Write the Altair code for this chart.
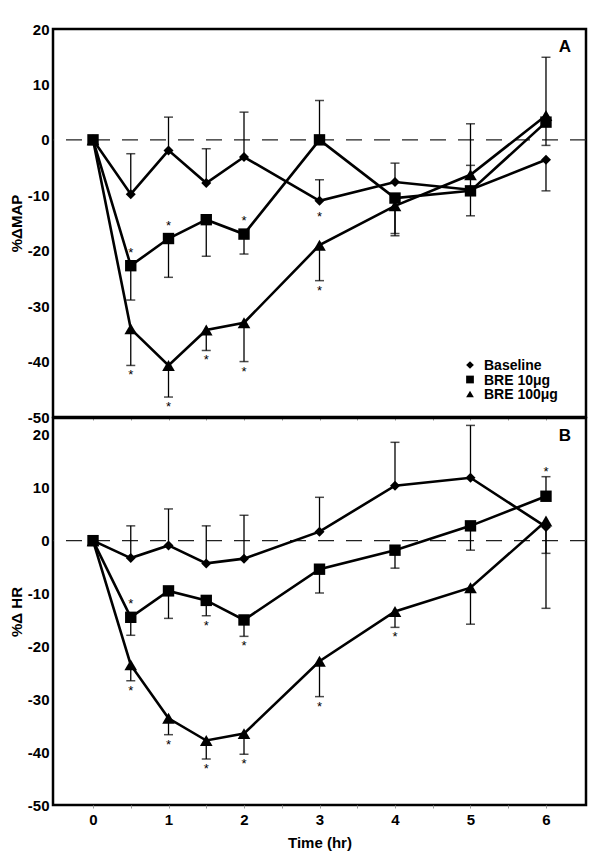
import altair as alt
import pandas as pd

FONT = "Liberation Sans"

times = [0, 0.5, 1, 1.5, 2, 3, 4, 5, 6]
series_names = ["Baseline", "BRE 10μg", "BRE 100μg"]
marker_shapes = ["diamond", "square", "triangle-up"]

# Panel A: %ΔMAP  (means and error-bar end values)
map_base = [0, -9.8, -1.9, -7.8, -3.1, -11.0, -7.6, -9.0, -3.6]
map_base_err = [0, -2.5, 4.1, -1.6, 5.0, -7.2, -4.2, -4.6, -9.2]
map_b10 = [0, -22.7, -17.8, -14.4, -17.0, 0.0, -10.5, -9.2, 3.2]
map_b10_err = [0, -28.9, -24.8, -21.0, -20.6, 7.1, -16.9, -13.7, -1.0]
map_b100 = [0, -34.1, -40.7, -34.3, -33.0, -19.0, -11.9, -6.3, 4.4]
map_b100_err = [0, -40.7, -46.4, -38.0, -40.0, -25.4, -17.3, 2.9, 14.9]

# Panel B: %ΔHR
hr_base = [0, -3.3, -0.9, -4.3, -3.4, 1.7, 10.4, 11.9, 2.6]
hr_base_err = [0, 2.8, 6.0, 2.8, 4.8, 8.2, 18.6, 21.8, -12.8]
hr_b10 = [0, -14.5, -9.5, -11.3, -15.0, -5.4, -1.8, 2.8, 8.4]
hr_b10_err = [0, -17.9, -14.7, -14.2, -18.1, -9.9, -5.2, -1.8, 12.1]
hr_b100 = [0, -23.5, -33.6, -37.8, -36.5, -22.8, -13.4, -8.9, 3.7]
hr_b100_err = [0, -26.5, -36.7, -41.3, -40.4, -29.5, -16.4, -15.8, -2.4]

# significance asterisks: (series, time)
map_stars_above = [("BRE 10μg", 0.5), ("BRE 10μg", 1), ("BRE 10μg", 2)]
map_stars_below = [("Baseline", 3), ("BRE 100μg", 0.5), ("BRE 100μg", 1),
                   ("BRE 100μg", 1.5), ("BRE 100μg", 2), ("BRE 100μg", 3)]
hr_stars_above = [("BRE 10μg", 0.5), ("BRE 10μg", 6)]
hr_stars_below = [("BRE 10μg", 1.5), ("BRE 10μg", 2), ("BRE 100μg", 0.5),
                  ("BRE 100μg", 1), ("BRE 100μg", 1.5), ("BRE 100μg", 2),
                  ("BRE 100μg", 3), ("BRE 100μg", 4)]

y_ticks = [-50, -40, -30, -20, -10, 0, 10, 20]
x_ticks = [0, 0.5, 1, 1.5, 2, 2.5, 3, 3.5, 4, 4.5, 5, 5.5, 6]


def build_df(means, errs):
    rows = []
    for name, m, e in zip(series_names, means, errs):
        for t, v, ev in zip(times, m, e):
            rows.append({"t": t, "v": v, "err": ev, "series": name})
    return pd.DataFrame(rows)


def star_df(df, stars, above):
    rows = []
    for name, t in stars:
        r = df[(df.series == name) & (df.t == t)].iloc[0]
        if above:
            y = max(r.v, r.err)
            at_mean = r.v >= r.err
        else:
            y = min(r.v, r.err)
            at_mean = r.v <= r.err
        rows.append({"t": t, "y": y, "at_mean": bool(at_mean)})
    return pd.DataFrame(rows)


W = 533
AX = dict(labelFont=FONT, labelFontSize=15, labelFontWeight="bold", labelColor="black",
          titleFont=FONT, titleFontSize=15, titleFontWeight="bold", titleColor="black")
shape_scale = alt.Scale(domain=series_names, range=marker_shapes)


def legend_layers():
    ldf = pd.DataFrame({"series": series_names, "row": list(range(len(series_names)))})
    ly = alt.Y("row:Q", scale=alt.Scale(domain=[0, 2], range=[336, 365]), axis=None)
    sym = alt.Chart(ldf).mark_point(filled=True, opacity=1, color="black", size=60).encode(
        x=alt.value(417), y=ly,
        shape=alt.Shape("series:N", scale=shape_scale, legend=None))
    txt = alt.Chart(ldf).mark_text(
        font=FONT, fontSize=14, fontWeight="bold", color="black", align="left",
        baseline="middle", dy=1).encode(x=alt.value(431), y=ly, text="series:N")
    return alt.layer(sym, txt)


def panel(means, errs, sa, sb, ydom, ytitle, letter, bottom, H):
    df = build_df(means, errs)
    xscale = alt.Scale(domain=[-0.53, 6.53], nice=False, zero=False)
    yscale = alt.Scale(domain=ydom, nice=False, zero=False)
    if bottom:
        xaxis = alt.Axis(values=x_ticks, title="Time (hr)",
                         labelExpr="datum.value % 1 == 0 ? toString(datum.value) : ''",
                         tickSize=3, tickColor="#999", labelPadding=4,
                         titlePadding=8, grid=False, domain=False, **AX)
    else:
        xaxis = alt.Axis(values=x_ticks, title=None, labels=False, tickSize=3,
                         tickColor="#999", grid=False, domain=False)
    yaxis = alt.Axis(values=y_ticks, title=ytitle, ticks=False, grid=False,
                     labelExpr="toString(datum.value)",
                     domain=False, labelPadding=4, titlePadding=3, **AX)
    X = alt.X("t:Q", scale=xscale, axis=xaxis)
    base = alt.Chart(df)

    zero = alt.Chart(pd.DataFrame({"y": [0]})).mark_rule(
        strokeDash=[16, 12], color="#222", strokeWidth=1.2
    ).encode(y=alt.Y("y:Q", scale=yscale, axis=yaxis))

    lines = base.mark_line(color="black", strokeWidth=2.6).encode(
        x=X, y=alt.Y("v:Q", scale=yscale, axis=yaxis), detail="series:N")
    stems = base.transform_filter("datum.t > 0").mark_rule(
        color="black", strokeWidth=1.3).encode(x=X, y="v:Q", y2="err:Q")
    caps = base.transform_filter("datum.t > 0").mark_tick(
        orient="horizontal", color="black", thickness=1.5, size=9).encode(
        x=X, y="err:Q")
    pts = base.mark_point(filled=True, opacity=1, color="black").encode(
        x=X, y="v:Q",
        shape=alt.Shape("series:N", scale=shape_scale, legend=None),
        size=alt.Size("series:N",
                      scale=alt.Scale(domain=series_names, range=[100, 160, 150]),
                      legend=None))
    layers = [zero, lines, stems, caps, pts]
    for stars, above in ((sa, True), (sb, False)):
        sdf = star_df(df, stars, above)
        for at_mean in (True, False):
            sub = sdf[sdf.at_mean == at_mean]
            if len(sub) == 0:
                continue
            if above:
                dy = -13 if at_mean else -5
            else:
                dy = 16 if at_mean else 10
            layers.append(alt.Chart(sub).mark_text(
                text="*", font=FONT, fontSize=13, color="black", dy=dy
            ).encode(x=X, y="y:Q"))
    layers.append(alt.Chart(pd.DataFrame({"l": [letter]})).mark_text(
        font=FONT, fontSize=17, fontWeight="bold", color="black", align="center"
    ).encode(text="l:N", x=alt.value(W - 21), y=alt.value(18)))
    main = alt.layer(*layers)
    if letter == "A":
        main = alt.layer(main, legend_layers()).resolve_scale(y="independent")
    return main.properties(width=W, height=H)


top = panel([map_base, map_b10, map_b100], [map_base_err, map_b10_err, map_b100_err],
            map_stars_above, map_stars_below, [-50, 20], "%ΔMAP", "A", False, 388)
bot = panel([hr_base, hr_b10, hr_b100], [hr_base_err, hr_b10_err, hr_b100_err],
            hr_stars_above, hr_stars_below, [-50, 23.2], "%Δ HR", "B", True, 387)

chart = alt.vconcat(top, bot, spacing=1, bounds="flush").properties(
    padding={"left": 0, "top": 12, "right": 5, "bottom": 5},
    background="white"
).configure_view(
    stroke="black", strokeWidth=2.5
)

chart.save("out.html", embed_options={"renderer": "svg", "actions": False})
